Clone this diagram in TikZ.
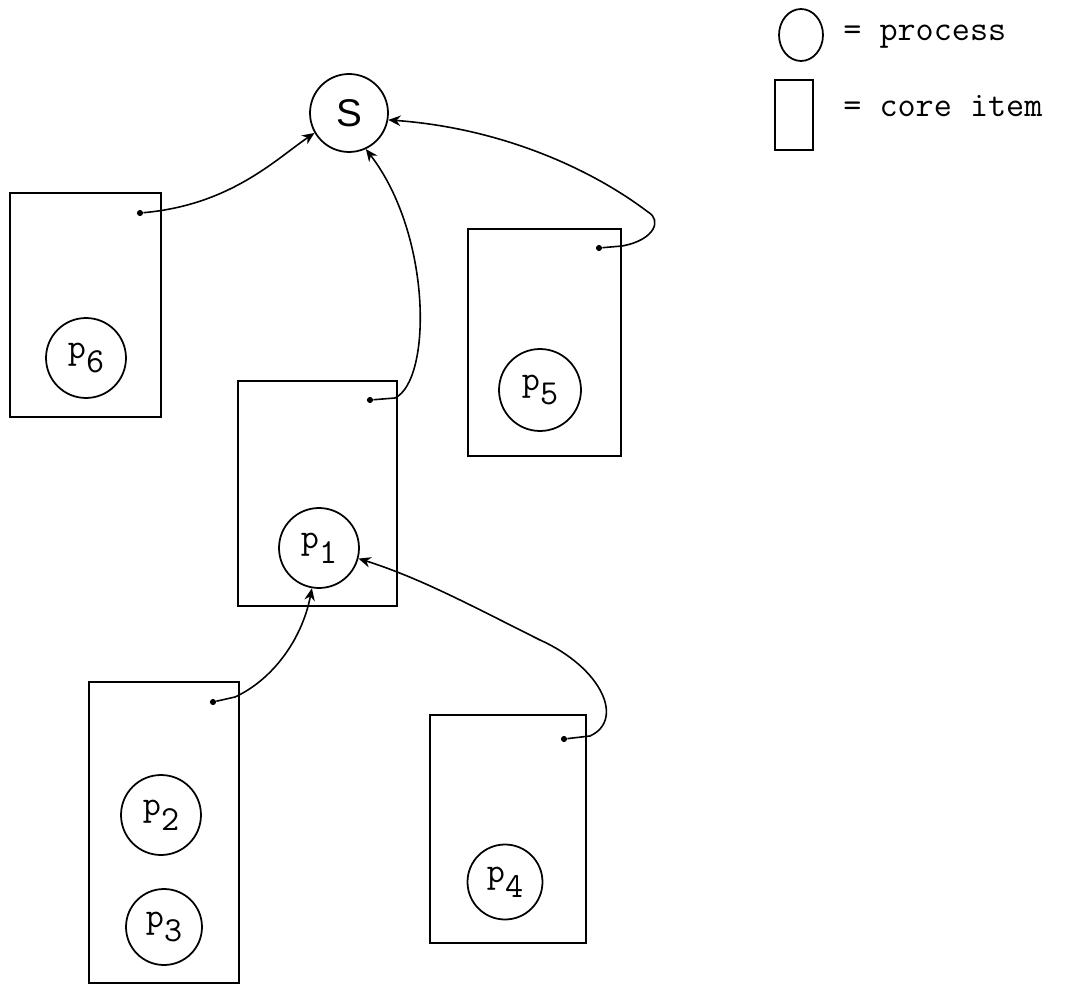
\documentclass[tikz,border=0pt]{standalone}
\usepackage{fontspec}
\newfontfamily\handfont{Liberation Sans}
\usetikzlibrary{arrows.meta,shapes.geometric}
\newcommand{\pname}[1]{p\raisebox{-0.42em}{#1}}

\begin{document}
\begin{tikzpicture}[x=0.02cm,y=-0.02cm,
  core/.style={draw,line width=1.1pt,inner sep=0},
  proc/.style={draw,circle,line width=1pt,inner sep=0,minimum size=1.6cm,
    font=\ttfamily\fontsize{20}{22}\selectfont},
  ptr/.style={line width=0.9pt,-{Stealth[length=7pt,width=6pt]}},
  dot/.style={circle,fill,inner sep=0,minimum size=3.5pt}]

\useasboundingbox (0,0) rectangle (1065,986);

% legend
\node[draw,ellipse,line width=1pt,minimum width=0.88cm,minimum height=1.04cm,inner sep=0] (lp) at (801,35) {};
\node[core,minimum width=0.76cm,minimum height=1.4cm] (lc) at (794,115) {};
\node[anchor=west,inner sep=0,font=\ttfamily\fontsize{20}{22}\selectfont] (tp) at (843,37) {= process};
\node[anchor=west,inner sep=0,font=\ttfamily\fontsize{20}{22}\selectfont] (tc) at (843,106) {= core item};

% the shared process
\node[proc,minimum size=1.56cm,font=\handfont\fontsize{22}{24}\selectfont] (S) at (349,113) {S};

% core items
\node[core,minimum width=3.02cm,minimum height=4.48cm] (c6) at (85.5,305) {};
\node[core,minimum width=3.18cm,minimum height=4.5cm] (c1) at (317.5,493.5) {};
\node[core,minimum width=3.06cm,minimum height=4.54cm] (c5) at (544.5,342.5) {};
\node[core,minimum width=3.0cm,minimum height=6.02cm] (c23) at (164,832.5) {};
\node[core,minimum width=3.12cm,minimum height=4.56cm] (c4) at (508,829) {};

% processes
\node[proc] (p6) at (86,358) {\pname{6}};
\node[proc] (p1) at (319,548) {\pname{1}};
\node[proc,minimum size=1.64cm] (p5) at (540,390) {\pname{5}};
\node[proc] (p2) at (161,815) {\pname{2}};
\node[proc,minimum size=1.52cm] (p3) at (164,927) {\pname{3}};
\node[proc,minimum size=1.5cm] (p4) at (505,882) {\pname{4}};

% pointers
\node[dot] (d6) at (140,213) {};
\node[dot] (d1) at (370,400) {};
\node[dot] (d5) at (599,248) {};
\node[dot] (d23) at (213,702) {};
\node[dot] (d4) at (564,739) {};

\draw[ptr] (d6) .. controls (230,205) and (275,160) .. (S.210);
\draw[ptr] (d1) -- (395,398) .. controls (432,380) and (432,235) .. (S.295);
\draw[ptr] (d5) -- (622,246) .. controls (655,240) and (662,220) .. (648,212)
  .. controls (590,168) and (500,128) .. (S.350);
\draw[ptr] (d23) -- (235,697) .. controls (272,680) and (302,640) .. (p1.260);
\draw[ptr] (d4) -- (590,736) .. controls (625,720) and (602,668) .. (540,640)
  .. controls (470,605) and (420,578) .. (p1.345);
\end{tikzpicture}
\end{document}
